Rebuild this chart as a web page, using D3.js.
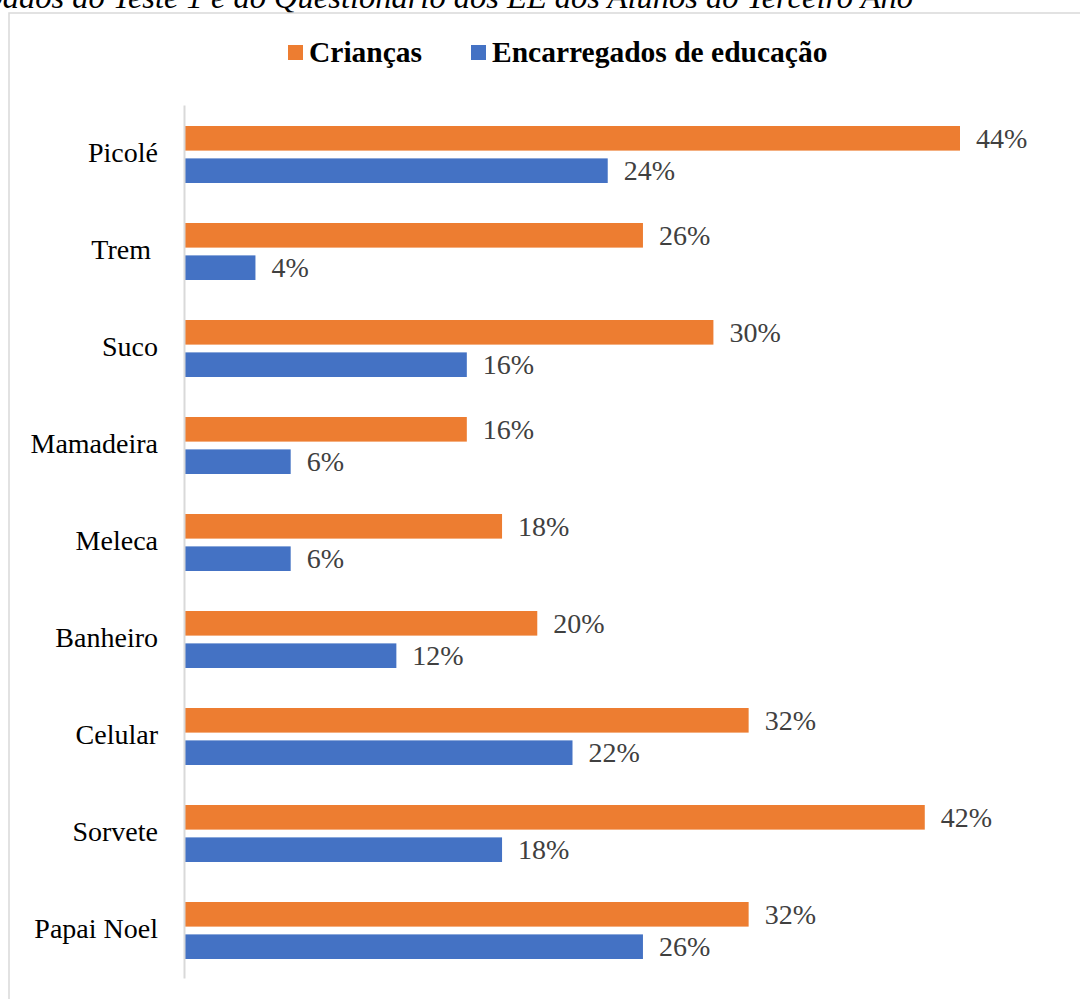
<!DOCTYPE html>
<html>
<head>
<meta charset="utf-8">
<script src="https://cdn.jsdelivr.net/npm/d3@7"></script>
<style>
  body { margin: 0; background: #fff; }
  svg { display: block; }
</style>
</head>
<body>
<svg id="chart" width="1080" height="999"></svg>
<script>
// dados
const categorias = ["Picolé", "Trem\u00a0", "Suco", "Mamadeira", "Meleca", "Banheiro", "Celular", "Sorvete", "Papai Noel"];
const criancas = [44, 26, 30, 16, 18, 20, 32, 42, 32];
const encarregados = [24, 4, 16, 6, 6, 12, 22, 18, 26];
const series = ["Crianças", "Encarregados de educação"];
const cores = ["#ed7d31", "#4472c4"];

const svg = d3.select("#chart");
const serif = "'Liberation Serif', 'Times New Roman', serif";

// titulo cortado no topo (como na figura original)
svg.append("text")
  .attr("x", 913)
  .attr("y", 8)
  .attr("text-anchor", "end")
  .style("font-family", serif)
  .style("font-style", "italic")
  .style("font-size", "32.5px")
  .attr("fill", "#000")
  .text("Dados do Teste 1 e do Questionário dos EE dos Alunos do Terceiro Ano");

// moldura
svg.append("rect")
  .attr("x", 9)
  .attr("y", 13)
  .attr("width", 1100)
  .attr("height", 1100)
  .attr("fill", "none")
  .attr("stroke", "#d9d9d9")
  .attr("stroke-width", 1.5);

const x = d3.scaleLinear().domain([0, 44]).range([185, 960]);
const y = d3.scaleBand().domain(categorias).range([105, 978]).paddingInner(0).paddingOuter(0);
const ySub = d3.scaleBand().domain(series).range([21, 78]).paddingInner(0.24);

const dados = categorias.map((c, i) => ({ cat: c, vals: [criancas[i], encarregados[i]] }));

const grupos = svg.selectAll("g.cat")
  .data(dados)
  .join("g")
  .attr("class", "cat")
  .attr("transform", d => `translate(0,${y(d.cat)})`);

series.forEach((s, k) => {
  grupos.append("rect")
    .attr("x", x(0))
    .attr("y", ySub(s))
    .attr("width", d => x(d.vals[k]) - x(0))
    .attr("height", ySub.bandwidth())
    .attr("fill", cores[k]);

  grupos.append("text")
    .attr("x", d => x(d.vals[k]) + 16)
    .attr("y", ySub(s) + ySub.bandwidth() / 2)
    .attr("dy", "0.35em")
    .style("font-family", serif)
    .style("font-size", "28px")
    .attr("fill", "#404040")
    .text(d => d.vals[k] + "%");
});

// eixo vertical
const eixo = svg.append("g")
  .attr("transform", `translate(${x(0) - 1},0)`)
  .call(d3.axisLeft(y).tickSize(0).tickPadding(26));
eixo.select(".domain").attr("stroke", "#d9d9d9").attr("stroke-width", 2);
eixo.selectAll("text")
  .style("font-family", serif)
  .style("font-size", "28px")
  .attr("fill", "#000");

// legenda
const legenda = [
  { nome: series[0], cor: cores[0], x: 288 },
  { nome: series[1], cor: cores[1], x: 471 }
];
legenda.forEach(l => {
  svg.append("rect")
    .attr("x", l.x)
    .attr("y", 45)
    .attr("width", 15)
    .attr("height", 15)
    .attr("fill", l.cor);
  svg.append("text")
    .attr("x", l.x + 21)
    .attr("y", 62)
    .style("font-family", serif)
    .style("font-weight", "bold")
    .style("font-size", "29.5px")
    .attr("fill", "#000")
    .text(l.nome);
});
</script>
</body>
</html>
